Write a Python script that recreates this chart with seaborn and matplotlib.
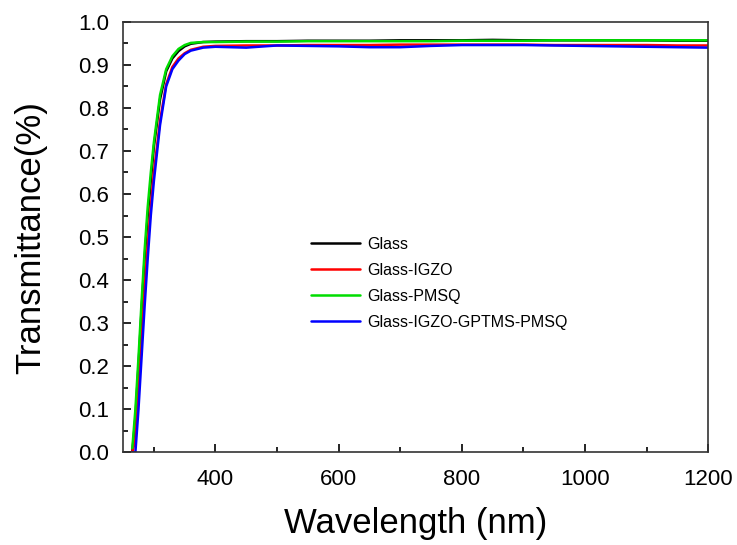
import numpy as np
import pandas as pd
import matplotlib
matplotlib.use('Agg')
import matplotlib.pyplot as plt
import seaborn as sns
from matplotlib.ticker import MultipleLocator

# Wavelength grid (nm) and transmittance
wavelength = [265, 270, 275, 280, 285, 290, 295, 300, 310, 320, 330, 340, 350, 360,
              380, 400, 450, 500, 550, 600, 650, 700, 750, 800, 850, 900, 950,
              1000, 1050, 1100, 1150, 1200]

glass = [0.00, 0.08, 0.20, 0.33, 0.45, 0.55, 0.63, 0.71, 0.82, 0.885, 0.915, 0.932, 0.943, 0.949,
         0.953, 0.954, 0.955, 0.955, 0.956, 0.956, 0.956, 0.957, 0.957, 0.957, 0.958, 0.957, 0.957,
         0.957, 0.957, 0.957, 0.956, 0.956]
glass_igzo = [0.00, 0.03, 0.14, 0.26, 0.38, 0.48, 0.57, 0.65, 0.77, 0.855, 0.895, 0.915, 0.927, 0.935,
              0.942, 0.944, 0.945, 0.945, 0.946, 0.946, 0.946, 0.947, 0.947, 0.947, 0.947, 0.947, 0.946,
              0.946, 0.946, 0.946, 0.945, 0.945]
glass_pmsq = [0.01, 0.10, 0.22, 0.35, 0.47, 0.57, 0.65, 0.72, 0.83, 0.89, 0.92, 0.937, 0.946, 0.951,
              0.953, 0.953, 0.954, 0.954, 0.955, 0.955, 0.955, 0.955, 0.955, 0.956, 0.956, 0.956, 0.957,
              0.957, 0.957, 0.957, 0.957, 0.957]
glass_igzo_gptms_pmsq = [0.00, 0.00, 0.10, 0.22, 0.34, 0.45, 0.55, 0.63, 0.76, 0.85, 0.89, 0.91, 0.925, 0.933,
                         0.940, 0.942, 0.940, 0.945, 0.944, 0.943, 0.941, 0.941, 0.944, 0.946, 0.946, 0.946, 0.945,
                         0.944, 0.943, 0.942, 0.941, 0.940]

labels = ['Glass', 'Glass-IGZO', 'Glass-PMSQ', 'Glass-IGZO-GPTMS-PMSQ']
colors = ['black', 'red', '#00dd00', 'blue']

df = pd.DataFrame({
    'Wavelength': wavelength * 4,
    'T': glass + glass_igzo + glass_pmsq + glass_igzo_gptms_pmsq,
    'Sample': sum([[l] * len(wavelength) for l in labels], []),
})

sns.set_style('white')
plt.rcParams['font.family'] = ['Liberation Sans', 'DejaVu Sans']
plt.rcParams['text.color'] = 'black'
plt.rcParams['axes.labelcolor'] = 'black'
plt.rcParams['xtick.color'] = 'black'
plt.rcParams['ytick.color'] = 'black'

fig, ax = plt.subplots(figsize=(7.37, 5.45), dpi=100)
sns.lineplot(data=df, x='Wavelength', y='T', hue='Sample', hue_order=labels,
             palette=colors, linewidth=1.8, ax=ax)

ax.set_xlim(250, 1200)
ax.set_ylim(0, 1.0)
ax.xaxis.set_major_locator(MultipleLocator(200))
ax.xaxis.set_minor_locator(MultipleLocator(100))
ax.yaxis.set_major_locator(MultipleLocator(0.1))
ax.yaxis.set_minor_locator(MultipleLocator(0.05))
ax.tick_params(which='both', direction='in', bottom=True, left=True, top=False, right=False,
               labelsize=16, colors='black')
ax.tick_params(axis='x', which='major', pad=12)
ax.tick_params(axis='y', which='major', pad=10)
ax.tick_params(which='major', length=6, width=1.2)
ax.tick_params(which='minor', length=3.5, width=1.2)
for s in ax.spines.values():
    s.set_linewidth(1.2)
    s.set_color('#333333')

ax.set_xlabel('Wavelength (nm)', fontsize=25, labelpad=12)
ax.set_ylabel('Transmittance(%)', fontsize=25, labelpad=22)

leg = ax.legend(loc='upper left', bbox_to_anchor=(0.321, 0.50), frameon=False, fontsize=11.5,
                handlelength=3.1, handletextpad=0.4, labelspacing=0.68,
                borderpad=0, borderaxespad=0)
for line in leg.get_lines():
    line.set_linewidth(1.8)

fig.subplots_adjust(left=0.167, right=0.961, top=0.96, bottom=0.17)
fig.savefig('out.png', dpi=100)
